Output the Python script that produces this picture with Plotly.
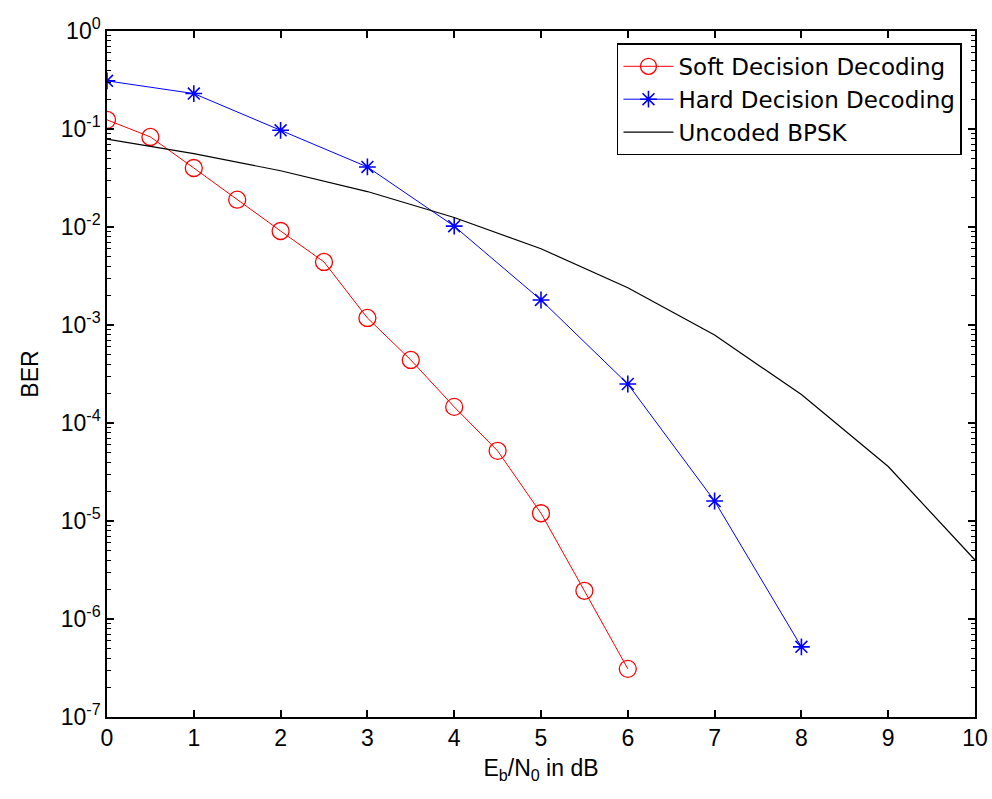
import plotly.graph_objects as go

# Soft decision decoding
soft_x = [0, 0.5, 1, 1.5, 2, 2.5, 3, 3.5, 4, 4.5, 5, 5.5, 6]
soft_ber = [0.124, 0.083, 0.040, 0.019, 0.0091, 0.0044, 0.00118, 0.00044,
            0.000146, 5.2e-5, 1.2e-5, 1.94e-6, 3.1e-7]

# Hard decision decoding
hard_x = [0, 1, 2, 3, 4, 5, 6, 7, 8]
hard_ber = [0.31, 0.23, 0.097, 0.041, 0.0102, 0.0018, 2.5e-4, 1.6e-5, 5.2e-7]

# Uncoded BPSK
unc_x = [0, 1, 2, 3, 4, 5, 6, 7, 8, 9, 10]
unc_ber = [0.079, 0.056, 0.0375, 0.023, 0.0125, 0.006, 0.0024, 7.9e-4,
           1.95e-4, 3.6e-5, 4.0e-6]

x_ticks = [0, 1, 2, 3, 4, 5, 6, 7, 8, 9, 10]
y_tickvals = [1, 1e-1, 1e-2, 1e-3, 1e-4, 1e-5, 1e-6, 1e-7]
y_ticktext = ["10<sup>0</sup>", "10<sup>-1</sup>", "10<sup>-2</sup>", "10<sup>-3</sup>",
              "10<sup>-4</sup>", "10<sup>-5</sup>", "10<sup>-6</sup>", "10<sup>-7</sup>"]

# minor log ticks (2..9 within each decade)
y_minor = [m * d for d in y_tickvals[1:] for m in range(2, 10)]

fig = go.Figure()
# helper trace on the overlay axis that carries the minor log ticks
fig.add_trace(go.Scatter(x=unc_x, y=unc_ber, mode="lines", yaxis="y2",
                         line=dict(color="rgba(0,0,0,0)", width=1),
                         showlegend=False, hoverinfo="skip"))
fig.add_trace(go.Scatter(x=soft_x, y=soft_ber, mode="lines+markers",
                         name="Soft Decision Decoding",
                         line=dict(color="#ff0000", width=1),
                         marker=dict(symbol="circle-open", size=17, color="#ff0000",
                                     line=dict(width=1.3, color="#ff0000"))))
fig.add_trace(go.Scatter(x=hard_x, y=hard_ber, mode="lines+markers",
                         name="Hard Decision Decoding",
                         line=dict(color="#0000ff", width=1),
                         marker=dict(symbol="asterisk-open", size=14, color="#0000ff",
                                     line=dict(width=1.6, color="#0000ff"))))
fig.add_trace(go.Scatter(x=unc_x, y=unc_ber, mode="lines",
                         name="Uncoded BPSK",
                         line=dict(color="#000000", width=1.2)))

font = "Liberation Sans, Arial, sans-serif"
fig.update_layout(
    width=992, height=799,
    margin=dict(l=107, r=17, t=31, b=82),
    paper_bgcolor="white", plot_bgcolor="white",
    font=dict(family=font, size=23, color="black"),
    showlegend=True,
    legend=dict(x=0.985, y=0.982, xanchor="right", yanchor="top",
                bgcolor="white", bordercolor="black", borderwidth=1.5,
                font=dict(family="DejaVu Sans, sans-serif", size=23),
                tracegroupgap=0, itemwidth=50),
    xaxis=dict(range=[0, 10], tickvals=x_ticks, ticks="inside", ticklen=7,
               tickwidth=1.5, tickcolor="black",
               showline=True, linecolor="black", linewidth=1.5, mirror="ticks",
               showgrid=False, zeroline=False, automargin=False,
               tickfont=dict(size=23),
               title=dict(text="E<sub>b</sub>/N<sub>0</sub> in dB", standoff=10,
                          font=dict(size=23))),
    yaxis=dict(type="log", range=[-7, 0], tickvals=y_tickvals, ticktext=y_ticktext,
               ticks="inside", ticklen=7, tickwidth=1.5, tickcolor="black",
               showline=True, linecolor="black", linewidth=1.5, mirror="ticks",
               showgrid=False, zeroline=False, automargin=False,
               tickfont=dict(size=23),
               title=dict(text="BER", standoff=16, font=dict(size=23))),
    yaxis2=dict(type="log", range=[-7, 0], overlaying="y", side="left",
                tickmode="array", tickvals=y_minor, ticks="inside", ticklen=4,
                tickwidth=1.2, tickcolor="black",
                showticklabels=False, showline=True, linecolor="black",
                linewidth=1.5, mirror="ticks", showgrid=False, zeroline=False,
                automargin=False),
)

fig.write_html("out.html", config={"displayModeBar": False},
               post_script="document.body.style.margin='0';"
               "document.body.style.overflow='hidden';")
